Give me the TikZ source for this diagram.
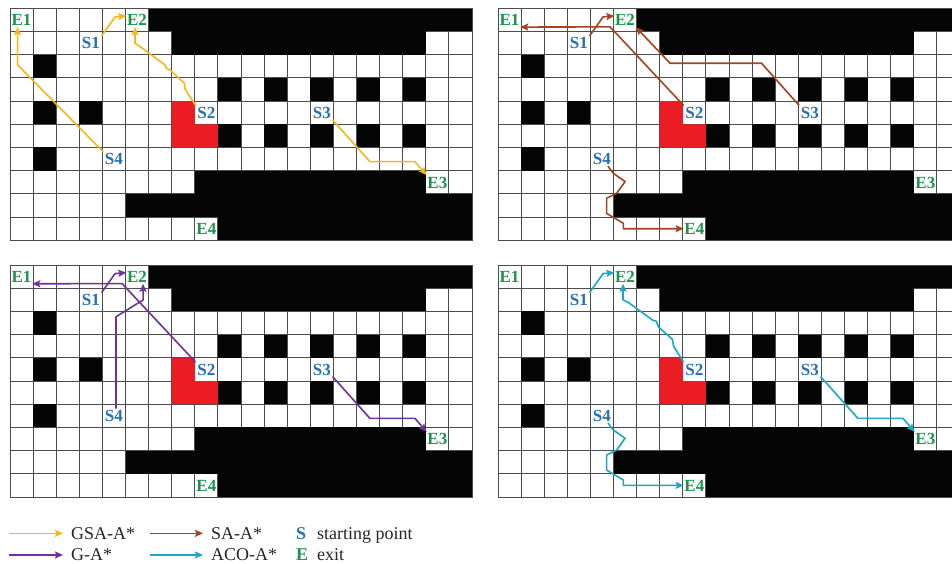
\documentclass[tikz,border=0pt]{standalone}
\usepackage{fontspec}
\setmainfont{Liberation Serif}
\usepackage{tikz}
\usetikzlibrary{arrows.meta}

\definecolor{gsacol}{RGB}{246,184,22}
\definecolor{sacol}{RGB}{163,68,32}
\definecolor{gacol}{RGB}{112,48,160}
\definecolor{acocol}{RGB}{28,168,196}
\definecolor{startblue}{RGB}{38,112,182}
\definecolor{exitgreen}{RGB}{26,150,76}
\definecolor{firered}{RGB}{236,28,36}

% one evacuation map: 20 x 10 cells, #1 = prefix of the node names
\newcommand{\mazemap}[1]{%
  \fill[white] (0,0) rectangle (20,10);
  \foreach \i in {0,...,20} \draw[gridline] (\i,0) -- (\i,10);
  \foreach \j in {0,...,10} \draw[gridline] (0,\j) -- (20,\j);
  % walls
  \fill[wall] (6,0) rectangle (20,1);
  \fill[wall] (7,1) rectangle (18,2);
  \fill[wall] (8,7) rectangle (18,8);
  \fill[wall] (5,8) rectangle (20,9);
  \fill[wall] (9,9) rectangle (20,10);
  \foreach \cx/\ry in {1/2,1/4,3/4,1/6} \fill[wall] (\cx,\ry) rectangle ++(1,1);
  \foreach \cx in {9,11,13,15,17} {
    \fill[wall] (\cx,3) rectangle ++(1,1);
    \fill[wall] (\cx,5) rectangle ++(1,1);
  }
  % fire area
  \fill[firered] (7,4) rectangle (8,6) (8,5) rectangle (9,6);
  \draw[gridline] (0,0) rectangle (20,10);
  % starting points and exits
  \node[startlbl] (#1s1) at (3.5,1.5) {S1};
  \node[startlbl] (#1s2) at (8.5,4.5) {S2};
  \node[startlbl] (#1s3) at (13.5,4.5) {S3};
  \node[startlbl] (#1s4) at (4.5,6.5) {S4};
  \node[exitlbl] (#1e1) at (0.5,0.5) {E1};
  \node[exitlbl] (#1e2) at (5.5,0.5) {E2};
  \node[exitlbl] (#1e3) at (18.5,7.5) {E3};
  \node[exitlbl] (#1e4) at (8.5,9.5) {E4};
}

\begin{document}
\begin{tikzpicture}[x=1pt, y=-1pt,
    gridline/.style={draw=black!70, line width=0.85pt},
    wall/.style={fill=black!98},
    startlbl/.style={text=startblue, font=\fontsize{17}{17}\selectfont\bfseries, inner sep=0pt,
        minimum width=21pt, minimum height=14pt, text height=11.5pt, text depth=0pt},
    exitlbl/.style={startlbl, text=exitgreen},
    route/.style={line width=1.6pt, line join=round, -{Stealth[length=8pt, width=7pt, inset=1.5pt]}},
    gsapath/.style={route, draw=gsacol},
    sapath/.style={route, draw=sacol},
    gapath/.style={route, draw=gacol},
    acopath/.style={route, draw=acocol},
    legtext/.style={font=\fontsize{18}{18}\selectfont, text=black!85, inner sep=0pt, anchor=base west},
    legkey/.style={legtext, font=\fontsize{18}{18}\selectfont\bfseries}
]
\useasboundingbox (0,0) rectangle (952,564);
\clip (0,0) rectangle (952,564);
\fill[white] (0,0) rectangle (952,564);

% GSA-A*
\begin{scope}[shift={(10,8.3)}, x=23.1pt, y=-23.2pt]
  \mazemap{p1}
  \draw[gsapath] (p1s1.north east) -- (4.55,0.37) -- ([yshift=4pt]p1e2.west);
  \draw[gsapath] (p1s2.north west) -- (7.58,3.49) -- (7.55,3.23) -- (6.93,2.66) -- (6.78,2.59) -- (6.71,2.44) -- (5.63,1.65) -- (5.41,1.51) -- ([xshift=-2pt]p1e2.south);
  \draw[gsapath] (p1s3.south east) -- (15.58,6.61) -- (17.53,6.61) -- (p1e3.north west);
  \draw[gsapath] (p1s4.north west) -- (0.33,2.44) -- ([xshift=-4pt]p1e1.south);
\end{scope}

% SA-A*
\begin{scope}[shift={(498,8.3)}, x=23.1pt, y=-23.2pt]
  \mazemap{p2}
  \draw[sapath] (p2s1.north east) -- (4.55,0.37) -- ([yshift=4pt]p2e2.west);
  \draw[sapath] (p2s2.north west) -- (4.85,0.8) -- (p2e1.south east);
  \draw[sapath] (p2s3.north west) -- (11.41,2.37) -- (7.45,2.37) -- (p2e2.south east);
  \draw[sapath] ([xshift=6pt]p2s4.south) -- (4.99,7.11) -- (5.5,7.47) -- (5.14,7.97) -- (4.7,8.19) -- (4.7,8.84) -- (5.43,9.27) -- (5.43,9.5) -- (p2e4.west);
\end{scope}

% G-A*
\begin{scope}[shift={(10,265)}, x=23.1pt, y=-23.2pt]
  \mazemap{p3}
  \draw[gapath] (p3s1.north east) -- (4.55,0.37) -- ([yshift=4pt]p3e2.west);
  \draw[gapath] (p3s2.north west) -- (4.85,0.8) -- (p3e1.south east);
  \draw[gapath] (p3s3.south east) -- (15.58,6.61) -- (17.53,6.61) -- (p3e3.north west);
  \draw[gapath] ([xshift=2pt]p3s4.north) -- (4.587,2.23) -- (5.76,1.51) -- ([xshift=6pt]p3e2.south);
\end{scope}

% ACO-A*
\begin{scope}[shift={(498,265)}, x=23.1pt, y=-23.2pt]
  \mazemap{p4}
  \draw[acopath] (p4s1.north east) -- (4.55,0.37) -- ([yshift=4pt]p4e2.west);
  \draw[acopath] (p4s2.north west) -- (7.6,3.5) -- (7.55,3.2) -- (6.95,2.68) -- (6.85,2.42) -- (6.7,2.38) -- (5.65,1.62) -- (5.41,1.5) -- ([xshift=-2pt]p4e2.south);
  \draw[acopath] (p4s3.south east) -- (15.58,6.61) -- (17.53,6.61) -- (p4e3.north west);
  \draw[acopath] ([xshift=6pt]p4s4.south) -- (4.99,7.11) -- (5.5,7.47) -- (5.14,7.97) -- (4.7,8.19) -- (4.7,8.84) -- (5.43,9.27) -- (5.43,9.5) -- (p4e4.west);
\end{scope}

% legend
\node[legtext] (lgsa) at (71,539.5) {GSA-A*};
\node[legtext] (lsa) at (211,539.5) {SA-A*};
\node[legkey, text=startblue] (lskey) at (296,539.5) {S};
\node[legtext] (lstart) at (317,539.5) {starting point};
\node[legtext] (lga) at (71,560) {G-A*};
\node[legtext] (laco) at (211,560) {ACO-A*};
\node[legkey, text=exitgreen] (lekey) at (296,560) {E};
\node[legtext] (lexit) at (317,560) {exit};

\coordinate (lgsa0) at (9,533.3);
\coordinate (lsa0) at (150,533.3);
\coordinate (lga0) at (9,555);
\coordinate (laco0) at (150,555);
\draw[gsapath, shorten >=8pt] (lgsa0) -- (lgsa0 -| lgsa.west);
\draw[sapath, shorten >=8pt] (lsa0) -- (lsa0 -| lsa.west);
\draw[gapath, shorten >=8pt] (lga0) -- (lga0 -| lga.west);
\draw[acopath, shorten >=8pt] (laco0) -- (laco0 -| laco.west);
\end{tikzpicture}
\end{document}
